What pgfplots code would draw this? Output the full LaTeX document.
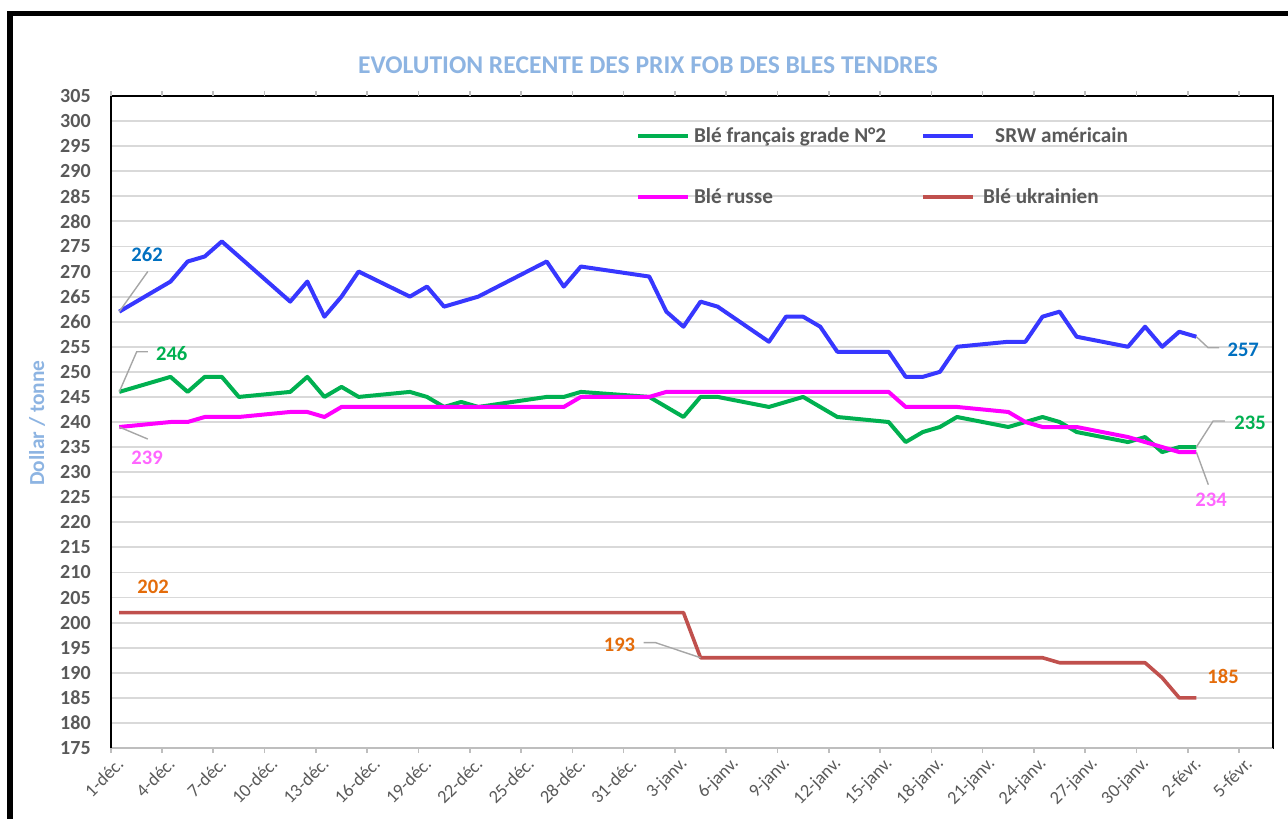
\documentclass[border=0pt]{standalone}
\usepackage{fontspec}
\setmainfont{Carlito}
\usepackage{pgfplots}
\usepackage{pgfplotstable}
\pgfplotsset{compat=1.18}
\definecolor{cblue}{RGB}{55,55,255}
\definecolor{cgreen}{RGB}{0,176,80}
\definecolor{cmag}{RGB}{255,0,255}
\definecolor{cred}{RGB}{192,80,77}
\definecolor{lblue}{RGB}{0,112,192}
\definecolor{lgreen}{RGB}{0,176,80}
\definecolor{lmag}{RGB}{255,102,255}
\definecolor{lorange}{RGB}{228,108,10}
\definecolor{ttl}{RGB}{141,180,226}
\definecolor{txt}{RGB}{89,89,89}
\definecolor{grd}{RGB}{217,217,217}
\definecolor{ldr}{RGB}{166,166,166}

\pgfplotstableread{
d v
0 262
3 268
4 272
5 273
6 276
10 264
11 268
12 261
13 265
14 270
17 265
18 267
19 263
21 265
25 272
26 267
27 271
31 269
32 262
33 259
34 264
35 263
38 256
39 261
40 261
41 259
42 254
45 254
46 249
47 249
48 250
49 255
52 256
53 256
54 261
55 262
56 257
59 255
60 259
61 255
62 258
63 257
}\srw

\pgfplotstableread{
d v
0 246
3 249
4 246
5 249
6 249
7 245
10 246
11 249
12 245
13 247
14 245
17 246
18 245
19 243
20 244
21 243
25 245
26 245
27 246
31 245
33 241
34 245
35 245
38 243
40 245
42 241
45 240
46 236
47 238
48 239
49 241
52 239
53 240
54 241
55 240
56 238
59 236
60 237
61 234
62 235
63 235
}\fra

\pgfplotstableread{
d v
0 239
3 240
4 240
5 241
7 241
10 242
11 242
12 241
13 243
26 243
27 245
31 245
32 246
45 246
46 243
49 243
52 242
53 240
54 239
56 239
59 237
60 236
61 235
62 234
63 234
}\rus

\pgfplotstableread{
d v
0 202
33 202
34 193
54 193
55 192
60 192
61 189
62 185
63 185
}\ukr

\begin{document}
\begin{tikzpicture}
\useasboundingbox (0,0) rectangle (644pt,409.5pt);
\fill[black] (3.5pt,0) rectangle (6.5pt,404pt);
\fill[black] (3.5pt,401.5pt) rectangle (644pt,404pt);
\node[font=\bfseries\fontsize{12.8}{14}\selectfont, text=ttl] at (324pt,377pt) {EVOLUTION RECENTE DES PRIX FOB DES BLES TENDRES};
\node[rotate=90, font=\bfseries\fontsize{10.7}{12}\selectfont, text=ttl] at (18.5pt,198pt) {Dollar / tonne};
\begin{axis}[
  at={(55.35pt,35.5pt)}, anchor=south west,
  scale only axis, width=581.3pt, height=326pt,
  xmin=-0.5, xmax=67.5, ymin=175, ymax=305,
  clip=false,
  ytick={175,180,...,305},
  xtick={0,3,...,66},
  xticklabels={1-déc.,4-déc.,7-déc.,10-déc.,13-déc.,16-déc.,19-déc.,22-déc.,25-déc.,28-déc.,31-déc.,3-janv.,6-janv.,9-janv.,12-janv.,15-janv.,18-janv.,21-janv.,24-janv.,27-janv.,30-janv.,2-févr.,5-févr.},
  major tick length=0pt,
  extra x ticks={-0.5,2.5,...,65.5},
  extra x tick labels={},
  extra x tick style={major tick length=2.5pt, tick align=outside, tick style={grd!70!gray, line width=0.8pt}},
  ymajorgrids, grid style={grd, line width=0.9pt},
  axis line style={black, line width=1pt},
  /pgf/number format/assume math mode=true,
  yticklabel style={font=\bfseries\fontsize{10}{12}\selectfont, text=txt, xshift=-6.5pt},
  xticklabel style={yshift=-6pt, xshift=1pt, rotate=45, anchor=east, inner sep=0.5pt, font=\fontsize{9.2}{10}\selectfont, text=txt},
  legend columns=2,
  legend cell align=left,
  legend style={at={(axis cs:29.85,300.4)}, anchor=north west, draw=none, fill=none,
     font=\bfseries\fontsize{10.6}{12}\selectfont, text=txt, row sep=17.5pt,
     /tikz/every even column/.append style={column sep=15.5pt}},
  legend image code/.code={\draw[#1] (0pt,0pt) -- (25pt,0pt);},
]
\addplot[cgreen, line width=2pt, line join=round] table[x=d,y=v] {\fra};
\addlegendentry{Blé français grade N°2}
\addplot[cblue, line width=2pt, line join=round] table[x=d,y=v] {\srw};
\addlegendentry{\hspace{8pt}SRW américain}
\addplot[cmag, line width=2pt, line join=round] table[x=d,y=v] {\rus};
\addlegendentry{Blé russe}
\addplot[cred, line width=1.8pt, line join=round] table[x=d,y=v] {\ukr};
\addlegendentry{\hspace{2pt}Blé ukrainien}

\draw[grd!70!gray, line width=1pt] (rel axis cs:0,0) -- (rel axis cs:1,0);
\draw[black, line width=1pt] (rel axis cs:0,0) -- (rel axis cs:0,1);
\draw[black, line width=1pt] (rel axis cs:1,0) -- (rel axis cs:1,1);

\draw[ldr, line width=0.7pt] (axis cs:0,262) -- (axis cs:1.67,270);
\draw[ldr, line width=0.7pt] (axis cs:0,246) -- (axis cs:1.02,254) -- (axis cs:1.67,254);
\draw[ldr, line width=0.7pt] (axis cs:0,239) -- (axis cs:1.67,236.6);
\draw[ldr, line width=0.7pt] (axis cs:30.67,196) -- (axis cs:31.37,196) -- (axis cs:34,193);
\draw[ldr, line width=0.7pt] (axis cs:63,257) -- (axis cs:63.69,254.8) -- (axis cs:64.33,254.8);
\draw[ldr, line width=0.7pt] (axis cs:63,235) -- (axis cs:63.98,240.2) -- (axis cs:64.66,240.2);
\draw[ldr, line width=0.7pt] (axis cs:63,234) -- (axis cs:63.7,227.5);

\tikzset{dl/.style={font=\bfseries\fontsize{10.3}{12}\selectfont}}
\node[dl, text=lblue] at (axis cs:1.63,273.3) {262};
\node[dl, text=lgreen] at (axis cs:3.07,253.7) {246};
\node[dl, text=lmag] at (axis cs:1.63,232.8) {239};
\node[dl, text=lorange] at (axis cs:1.98,207.1) {202};
\node[dl, text=lorange] at (axis cs:29.26,195.5) {193};
\node[dl, text=lorange] at (axis cs:64.56,189.35) {185};
\node[dl, text=lblue] at (axis cs:65.74,254.35) {257};
\node[dl, text=lgreen] at (axis cs:66.14,239.8) {235};
\node[dl, text=lmag] at (axis cs:63.86,224.4) {234};
\end{axis}
\end{tikzpicture}
\end{document}
